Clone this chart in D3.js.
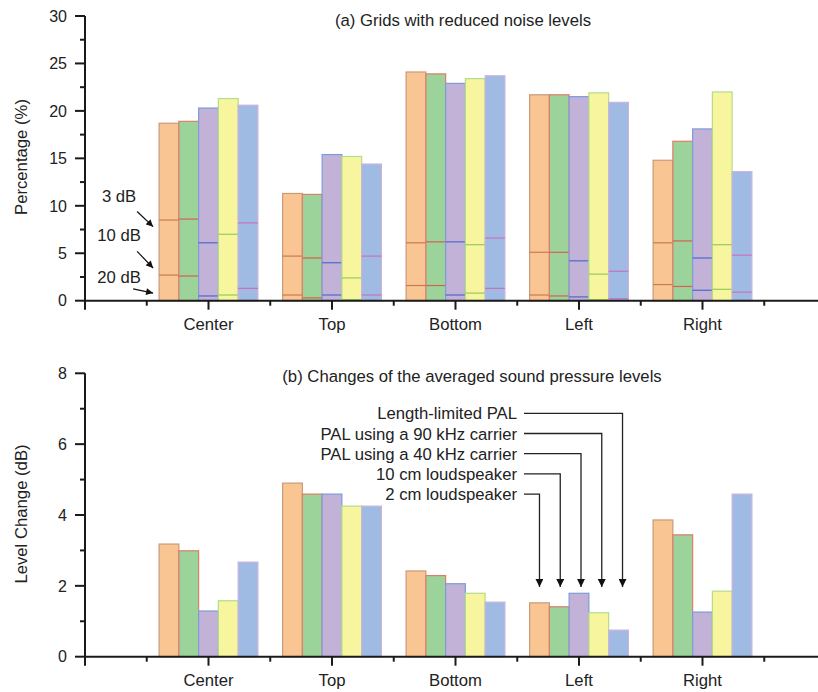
<!DOCTYPE html>
<html>
<head>
<meta charset="utf-8">
<script src="https://cdn.jsdelivr.net/npm/d3@7"></script>
<style>
  html, body { margin: 0; padding: 0; background: #fff; }
  svg { display: block; }
  text { font-family: "Liberation Sans", Arial, Helvetica, sans-serif; fill: #222; }
</style>
</head>
<body>
<svg id="chart" width="818" height="692"></svg>
<script>
// ---------- DATA ----------
const categories = ["Center", "Top", "Bottom", "Left", "Right"];
const series = ["2 cm loudspeaker", "10 cm loudspeaker", "PAL using a 40 kHz carrier", "PAL using a 90 kHz carrier", "Length-limited PAL"];

// (a) percentage of grids with reduced noise levels (3 dB, 10 dB, 20 dB thresholds), per series across categories
const pct3dB = [
  [18.7, 11.3, 24.1, 21.7, 14.8],
  [18.9, 11.2, 23.9, 21.7, 16.8],
  [20.3, 15.4, 22.9, 21.5, 18.1],
  [21.3, 15.2, 23.4, 21.9, 22.0],
  [20.6, 14.4, 23.7, 20.9, 13.6]
];
const pct10dB = [
  [8.5, 4.7, 6.1, 5.1, 6.1],
  [8.6, 4.5, 6.2, 5.1, 6.3],
  [6.1, 4.0, 6.2, 4.2, 4.5],
  [7.0, 2.4, 5.9, 2.8, 5.9],
  [8.2, 4.7, 6.6, 3.1, 4.8]
];
const pct20dB = [
  [2.7, 0.6, 1.6, 0.6, 1.7],
  [2.6, 0.3, 1.6, 0.5, 1.5],
  [0.5, 0.6, 0.6, 0.4, 1.1],
  [0.6, 0.1, 0.8, 0.1, 1.2],
  [1.3, 0.6, 1.3, 0.2, 0.9]
];
// (b) changes of the averaged sound pressure levels (dB)
const levelChange = [
  [3.18, 4.90, 2.42, 1.52, 3.86],
  [2.99, 4.59, 2.29, 1.41, 3.44],
  [1.29, 4.59, 2.06, 1.79, 1.26],
  [1.58, 4.25, 1.79, 1.24, 1.85],
  [2.67, 4.25, 1.54, 0.75, 4.59]
];
const topTicks = [0, 5, 10, 15, 20, 25, 30];
const bottomTicks = [0, 2, 4, 6, 8];
const thresholdLabels = ["3 dB", "10 dB", "20 dB"];

// ---------- STYLE ----------
const fills   = ["#f9c592", "#9cd39b", "#c3b2d7", "#f7f59e", "#9fbae3"];
const strokes = ["#c99a7c", "#e07c68", "#7d9bd9", "#b3dc8c", "#cbb2dd"];
const inner   = ["#c97a55", "#d5614f", "#4d67cc", "#98c95b", "#c473bd"];
const axisColor = "#1a1a1a";
const FONT = 16.7;
const TICKFONT = 16;

const svg = d3.select("#chart");

// shared x scale: categories at 1..5
const x = d3.scaleLinear().domain([0, 6]).range([85, 826]);
const unit = x(1) - x(0);
const barW = 0.16 * unit;
const barX = (ci, si) => x(ci + 1) + (si - 2.5) * barW;

function drawXAxis(y0) {
  const g = svg.append("g");
  g.append("line").attr("x1", x(0)).attr("x2", 818).attr("y1", y0).attr("y2", y0)
    .attr("stroke", axisColor).attr("stroke-width", 2);
  const majors = d3.range(0, 6);
  const minors = d3.range(0.5, 6, 1);
  g.selectAll(".maj").data(majors).join("line")
    .attr("x1", d => x(d)).attr("x2", d => x(d)).attr("y1", y0).attr("y2", y0 + 9)
    .attr("stroke", axisColor).attr("stroke-width", 2);
  g.selectAll(".min").data(minors).join("line")
    .attr("x1", d => x(d)).attr("x2", d => x(d)).attr("y1", y0).attr("y2", y0 + 5)
    .attr("stroke", axisColor).attr("stroke-width", 2);
  g.selectAll(".lab").data(categories).join("text")
    .attr("x", (d, i) => x(i + 1)).attr("y", y0 + 29.5)
    .attr("text-anchor", "middle").attr("font-size", FONT).text(d => d);
}

function drawYAxis(y, ticks, minorTicks, label, labelY) {
  const g = svg.append("g");
  const [d0, d1] = y.domain();
  g.append("line").attr("x1", x(0)).attr("x2", x(0)).attr("y1", y(d1)).attr("y2", y(d0))
    .attr("stroke", axisColor).attr("stroke-width", 2);
  g.selectAll(".maj").data(ticks).join("line")
    .attr("x1", x(0) - 10).attr("x2", x(0)).attr("y1", d => y(d)).attr("y2", d => y(d))
    .attr("stroke", axisColor).attr("stroke-width", 2);
  g.selectAll(".min").data(minorTicks).join("line")
    .attr("x1", x(0) - 5).attr("x2", x(0)).attr("y1", d => y(d)).attr("y2", d => y(d))
    .attr("stroke", axisColor).attr("stroke-width", 2);
  g.selectAll(".lab").data(ticks).join("text")
    .attr("x", x(0) - 18).attr("y", d => y(d)).attr("dy", "0.36em")
    .attr("text-anchor", "end").attr("font-size", TICKFONT).text(d => d);
  g.append("text").attr("transform", `translate(27,${labelY}) rotate(-90)`)
    .attr("text-anchor", "middle").attr("font-size", FONT).text(label);
}

// defs: arrowhead
const defs = svg.append("defs");
defs.append("marker").attr("id", "arr").attr("viewBox", "0 0 10 10")
  .attr("refX", 10).attr("refY", 5).attr("markerWidth", 8).attr("markerHeight", 8)
  .attr("markerUnits", "userSpaceOnUse").attr("orient", "auto")
  .append("path").attr("d", "M0,0 L10,5 L0,10 Z").attr("fill", "#111");
defs.append("marker").attr("id", "arrS").attr("viewBox", "0 0 10 10")
  .attr("refX", 10).attr("refY", 5).attr("markerWidth", 8).attr("markerHeight", 7)
  .attr("markerUnits", "userSpaceOnUse").attr("orient", "auto")
  .append("path").attr("d", "M0,0 L10,5 L0,10 Z").attr("fill", "#111");

// ---------- (a) ----------
const yA = d3.scaleLinear().domain([0, 30]).range([300.7, 16]);
const gA = svg.append("g");
series.forEach((s, si) => {
  categories.forEach((c, ci) => {
    const bx = barX(ci, si);
    gA.append("rect").attr("x", bx).attr("y", yA(pct3dB[si][ci]))
      .attr("width", barW).attr("height", yA(0) - yA(pct3dB[si][ci]))
      .attr("fill", fills[si]).attr("stroke", strokes[si]).attr("stroke-width", 1.2);
    [pct10dB[si][ci], pct20dB[si][ci]].forEach(v => {
      gA.append("line").attr("x1", bx).attr("x2", bx + barW)
        .attr("y1", yA(v)).attr("y2", yA(v))
        .attr("stroke", inner[si]).attr("stroke-width", 1.2);
    });
  });
});
drawYAxis(yA, topTicks, d3.range(2.5, 30, 5), "Percentage (%)", 157);
drawXAxis(yA(0));
svg.append("text").attr("x", 463).attr("y", 26).attr("text-anchor", "middle")
  .attr("font-size", FONT).text("(a) Grids with reduced noise levels");

// threshold annotations (a)
const annX = x(1) - 2.5 * barW - 6;
const annDefs = [
  { label: thresholdLabels[0], ty: 8.8 },
  { label: thresholdLabels[1], ty: 4.7 },
  { label: thresholdLabels[2], ty: 0.3 }
];
annDefs.forEach(a => {
  svg.append("text").attr("x", annX - 34).attr("y", yA(a.ty) - 15)
    .attr("text-anchor", "middle").attr("font-size", FONT).text(a.label);
});
svg.append("line").attr("x1", annX - 16).attr("y1", yA(9.4)).attr("x2", annX).attr("y2", yA(7.8))
  .attr("stroke", "#111").attr("stroke-width", 1.2).attr("marker-end", "url(#arrS)");
svg.append("line").attr("x1", annX - 16).attr("y1", yA(5.2)).attr("x2", annX).attr("y2", yA(3.45))
  .attr("stroke", "#111").attr("stroke-width", 1.2).attr("marker-end", "url(#arrS)");
svg.append("line").attr("x1", annX - 20).attr("y1", yA(1.25)).attr("x2", annX).attr("y2", yA(0.8))
  .attr("stroke", "#111").attr("stroke-width", 1.2).attr("marker-end", "url(#arrS)");

// ---------- (b) ----------
const yB = d3.scaleLinear().domain([0, 8]).range([656.7, 373.3]);
const gB = svg.append("g");
series.forEach((s, si) => {
  categories.forEach((c, ci) => {
    const bx = barX(ci, si);
    gB.append("rect").attr("x", bx).attr("y", yB(levelChange[si][ci]))
      .attr("width", barW).attr("height", yB(0) - yB(levelChange[si][ci]))
      .attr("fill", fills[si]).attr("stroke", strokes[si]).attr("stroke-width", 1.2);
  });
});
drawYAxis(yB, bottomTicks, [1, 3, 5, 7], "Level Change (dB)", 514);
drawXAxis(yB(0));
svg.append("text").attr("x", 472).attr("y", 382.3).attr("text-anchor", "middle")
  .attr("font-size", FONT).text("(b) Changes of the averaged sound pressure levels");

// series legend with arrows pointing at "Left" group
const leftIdx = categories.indexOf("Left");
const labelRight = 517;
const lineStart = 524;
const firstLineY = 413.3, lineGap = 20.2;
const tipY = yB(1.97);
series.forEach((s, si) => {
  const row = series.length - 1 - si;  // top row is last series
  const ly = firstLineY + row * lineGap;
  const ax = barX(leftIdx, si) + barW / 2 + si * 1;
  svg.append("text").attr("x", labelRight).attr("y", ly).attr("dy", "0.36em")
    .attr("text-anchor", "end").attr("font-size", FONT).text(s);
  svg.append("path").attr("d", `M${lineStart},${ly} H${ax} V${tipY}`)
    .attr("fill", "none").attr("stroke", "#222").attr("stroke-width", 1.3)
    .attr("marker-end", "url(#arr)");
});
</script>
</body>
</html>
